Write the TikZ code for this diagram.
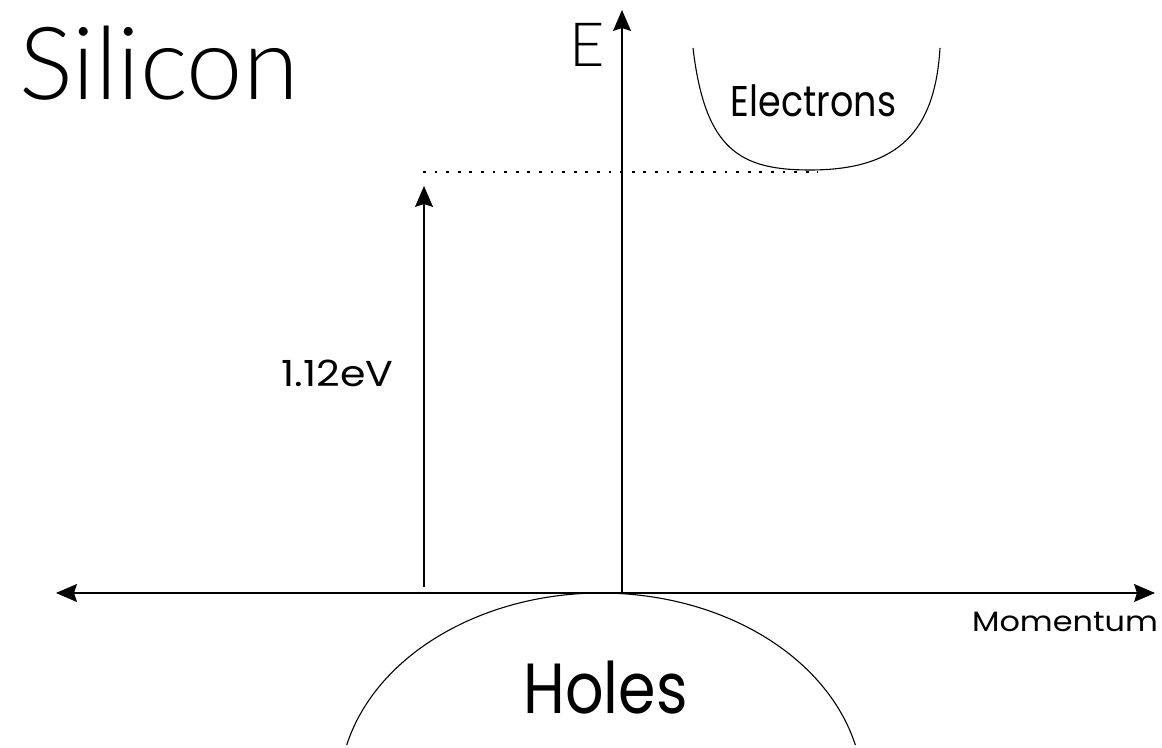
\documentclass[tikz,border=0pt]{standalone}
\usepackage{fontspec}
\usetikzlibrary{arrows.meta}
\newfontfamily\thinfont{Lato Light}
\newfontfamily\geofont[FakeStretch=0.85]{Poppins}
\newfontfamily\widefont[FakeStretch=1.14]{Poppins}
\begin{document}
\begin{tikzpicture}[x=1pt,y=1pt,
  axis/.style={line width=1.4pt, -{Stealth[length=21pt,width=18pt,inset=3pt]}},
  twoway/.style={line width=1.4pt, {Stealth[length=21pt,width=18pt,inset=3pt]}-{Stealth[length=21pt,width=18pt,inset=3pt]}},
  band/.style={line width=1.1pt},
  dots/.style={line width=2.8pt, dash pattern=on 2.8pt off 8.8pt},
  lbl/.style={inner sep=0pt, anchor=base}]
\useasboundingbox (0,0) rectangle (1162,747);
\coordinate (O) at (622,154);
\coordinate (Etop) at (622,737);
\coordinate (Left) at (56,154);
\coordinate (Right) at (1155,154);
\coordinate (gapbot) at (424,160);
\coordinate (gaptop) at (424,561);
\coordinate (dotL) at (423,575);
\coordinate (dotR) at (818,575);
\draw[axis] (O) -- (Etop);
\draw[twoway] (Left) -- (Right);
\draw[axis] (gapbot) -- (gaptop);
\draw[dots] (dotL) -- (dotR);
\draw[band] (693,699) .. controls (705,597) and (740,577) .. (810,577) .. controls (900,577) and (935,617) .. (940,699);
\draw[band] (346.7,2) arc[start angle=166.1, end angle=13.9, x radius=262, y radius=200];
\node[lbl, font=\thinfont\fontsize{101}{101}\selectfont] (silicon) at (159,647) {Silicon};
\node[lbl, font=\thinfont\fontsize{61}{61}\selectfont] (E) at (587.5,680) {E};
\node[lbl, font=\geofont\fontsize{43}{43}\selectfont] (electrons) at (813.5,630) {Electrons};
\node[lbl, font=\geofont\fontsize{71}{71}\selectfont] (holes) at (605.5,34) {Holes};
\node[lbl, font=\widefont\fontsize{28}{28}\selectfont] (momentum) at (1065,115) {Momentum};
\node[lbl, font=\widefont\fontsize{36}{36}\selectfont] (gap) at (337.5,360) {1.12eV};
\end{tikzpicture}
\end{document}
